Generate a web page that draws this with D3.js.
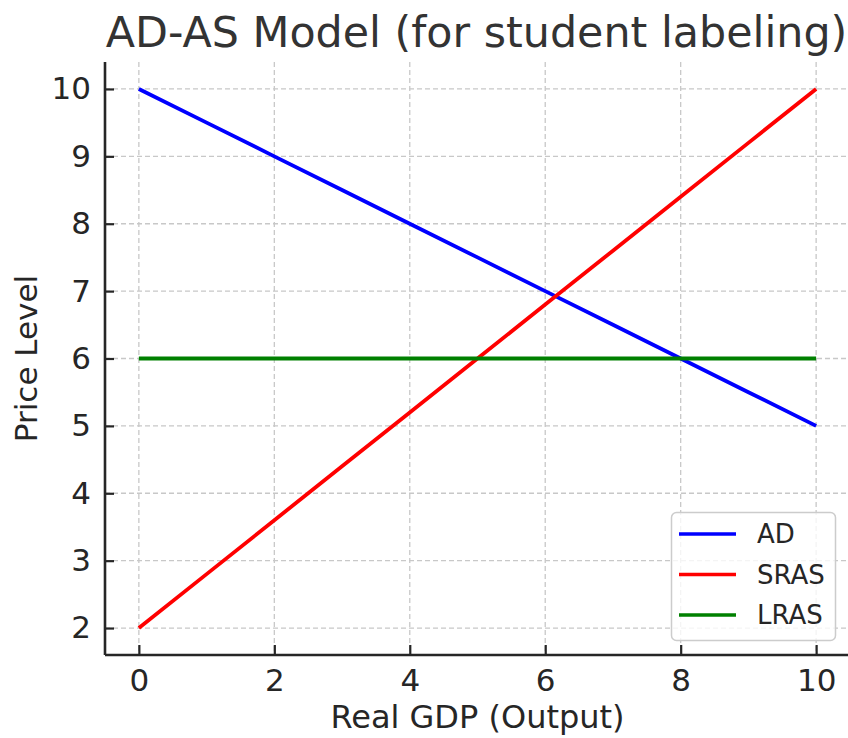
<!DOCTYPE html>
<html>
<head>
<meta charset="utf-8">
<script src="https://cdn.jsdelivr.net/npm/d3@7"></script>
<style>
  html, body { margin: 0; padding: 0; background: #fff; }
  svg { display: block; font-family: "DejaVu Sans", sans-serif; }
</style>
</head>
<body>
<svg id="chart" width="848" height="738"></svg>
<script>
const gdp = [0, 1, 2, 3, 4, 5, 6, 7, 8, 9, 10];
const adValues = [10, 9.5, 9, 8.5, 8, 7.5, 7, 6.5, 6, 5.5, 5];
const srasValues = [2, 2.8, 3.6, 4.4, 5.2, 6, 6.8, 7.6, 8.4, 9.2, 10];
const lrasValues = [6, 6, 6, 6, 6, 6, 6, 6, 6, 6, 6];
const seriesNames = ["AD", "SRAS", "LRAS"];
const seriesColors = ["#0000ff", "#ff0000", "#008000"];
const xTicks = [0, 2, 4, 6, 8, 10];
const yTicks = [2, 3, 4, 5, 6, 7, 8, 9, 10];
const titleText = "AD-AS Model (for student labeling)";
const xLabel = "Real GDP (Output)";
const yLabel = "Price Level";

(function () {
const svg = d3.select("#chart");
const pLeft = 105, pRight = 850, pTop = 62, pBottom = 655;

const x = d3.scaleLinear().domain([-0.5, 10.5]).range([pLeft, pRight]);
const y = d3.scaleLinear().domain([1.6, 10.4]).range([pBottom, pTop]);

// grid
const grid = svg.append("g");
grid.selectAll("line.vx").data(xTicks).join("line")
  .attr("x1", d => x(d)).attr("x2", d => x(d))
  .attr("y1", pTop).attr("y2", pBottom)
  .attr("stroke", "#c8c8c8").attr("stroke-width", 1.3).attr("stroke-dasharray", "5,3");
grid.selectAll("line.hy").data(yTicks).join("line")
  .attr("x1", pLeft).attr("x2", pRight)
  .attr("y1", d => y(d)).attr("y2", d => y(d))
  .attr("stroke", "#c8c8c8").attr("stroke-width", 1.3).attr("stroke-dasharray", "5,3");

// series
const series = [adValues, srasValues, lrasValues];
const line = d3.line().x((d, i) => x(gdp[i])).y(d => y(d));
series.forEach((vals, k) => {
  svg.append("path").datum(vals)
    .attr("d", line)
    .attr("fill", "none")
    .attr("stroke", seriesColors[k])
    .attr("stroke-width", 3.8);
});

// axes
const xAxis = d3.axisBottom(x).tickValues(xTicks).tickSizeInner(-10).tickSizeOuter(0).tickPadding(14);
const yAxis = d3.axisLeft(y).tickValues(yTicks).tickSizeInner(-9).tickSizeOuter(0).tickPadding(14);

const gx = svg.append("g").attr("transform", `translate(0,${pBottom})`).call(xAxis);
const gy = svg.append("g").attr("transform", `translate(${pLeft},0)`).call(yAxis);

[gx, gy].forEach(g => {
  g.select(".domain").attr("stroke", "#262626").attr("stroke-width", 2.6);
  g.selectAll(".tick line").attr("stroke", "#262626").attr("stroke-width", 2.2);
  g.selectAll(".tick text").attr("fill", "#262626")
    .style("font-family", "'DejaVu Sans', sans-serif").style("font-size", "31px");
});
gy.select(".domain").attr("d", `M0,${pTop}V${pBottom}`);
gx.select(".domain").attr("d", `M${pLeft},0H${pRight}`);
gx.selectAll(".tick text").attr("dy", "0.71em");

// title
svg.append("text")
  .attr("x", 476.5).attr("y", 47)
  .attr("text-anchor", "middle")
  .attr("fill", "#333333")
  .style("font-size", "42.8px")
  .text(titleText);

// axis labels
svg.append("text")
  .attr("x", (pLeft + pRight) / 2).attr("y", 728)
  .attr("text-anchor", "middle")
  .attr("fill", "#262626")
  .style("font-size", "32px")
  .text(xLabel);

svg.append("text")
  .attr("transform", `translate(37,${(pTop + pBottom) / 2}) rotate(-90)`)
  .attr("text-anchor", "middle")
  .attr("fill", "#262626")
  .style("font-size", "31px")
  .text(yLabel);

// legend
const lg = svg.append("g");
lg.append("rect")
  .attr("x", 671.5).attr("y", 512.5).attr("width", 164).attr("height", 128)
  .attr("rx", 5).attr("ry", 5)
  .attr("fill", "#ffffff").attr("fill-opacity", 0.8)
  .attr("stroke", "#cccccc").attr("stroke-width", 1.5);
const legendY = d3.scalePoint().domain(seriesNames).range([534, 615]);
seriesNames.forEach((name, k) => {
  lg.append("line")
    .attr("x1", 679).attr("x2", 736)
    .attr("y1", legendY(name)).attr("y2", legendY(name))
    .attr("stroke", seriesColors[k]).attr("stroke-width", 3.6);
  lg.append("text")
    .attr("x", 757).attr("y", legendY(name))
    .attr("dy", "0.36em")
    .attr("fill", "#262626")
    .style("font-size", "26px")
    .text(name);
});
})();
</script>
</body>
</html>
